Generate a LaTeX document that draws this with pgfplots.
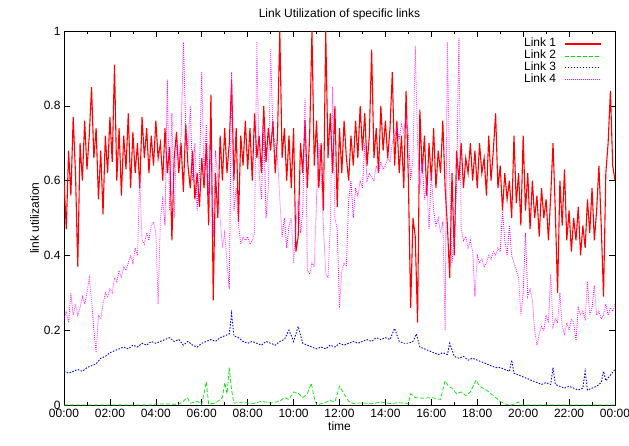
\documentclass[border=0pt]{standalone}
\usepackage{pgfplots}
\pgfplotsset{compat=1.18}
\usepackage{fontspec}
\setmainfont{Liberation Sans}
\definecolor{gred}{RGB}{255,0,0}
\definecolor{ggreen}{RGB}{0,230,0}
\definecolor{gblue}{RGB}{0,0,255}
\definecolor{gmag}{RGB}{255,0,255}
\newcommand{\legsolid}[2]{\node[inner sep=0pt, anchor=west] at (0pt,0pt) {\textcolor{#1}{\rule[-#2/2]{36pt}{#2}}};}
\newcommand{\legdash}[4]{\node[inner sep=0pt, anchor=west] at (0pt,0pt) {\textcolor{#1}{\leaders\hbox{\rule[-#2/2]{#3}{#2}\hspace{#4}}\hskip36pt}};}
\begin{document}
\begin{tikzpicture}
\begin{axis}[
  scale only axis, width=551pt, height=374pt,
  xmin=0, xmax=24, ymin=0, ymax=1,
  axis line style={line width=0.8pt},
  xtick={0,2,...,24},
  xticklabels={00:00,02:00,04:00,06:00,08:00,10:00,12:00,14:00,16:00,18:00,20:00,22:00,00:00},
  minor xtick={1,3,...,23},
  ytick={0,0.2,0.4,0.6,0.8,1},
  yticklabels={0,0.2,0.4,0.6,0.8,1},
  tick align=inside, tick pos=both,
  major tick length=6pt, minor tick length=3pt,
  tick style={line width=0.6pt, black},
  tick label style={font=\fontsize{12}{14}\selectfont},
  xticklabel style={yshift=-1pt},
  label style={font=\fontsize{12}{14}\selectfont},
  title style={font=\fontsize{12}{14}\selectfont, yshift=1pt},
  title={Link Utilization of specific links},
  xlabel={time}, ylabel={link utilization},
  xlabel style={yshift=3pt},
  ylabel style={yshift=-2pt},
  legend plot pos=right, legend cell align=right,
  legend style={at={(rel axis cs:0.9746,0.986)}, anchor=north east, draw=none, fill=none,
    font=\fontsize{12}{14}\selectfont, row sep=-3pt, inner sep=0pt, /tikz/column sep=7pt,
    nodes={inner sep=1.5pt, text height=9pt, text depth=3pt}},
]
\addplot[gred, line width=1.1pt,
  legend image code/.code={\node[inner sep=0pt, anchor=west, text height=, text depth=] at (0pt,0pt) {\textcolor{gred}{\rule[-0.6pt]{36pt}{1.2pt}}};}] coordinates {
(0.0,0.60)(0.1,0.47)(0.2,0.68)(0.3,0.56)(0.4,0.77)(0.5,0.62)(0.6,0.37)(0.7,0.70)(0.8,0.60)(0.9,0.76)
(1.0,0.63)(1.1,0.72)(1.2,0.85)(1.3,0.66)(1.4,0.74)(1.5,0.55)(1.6,0.68)(1.7,0.51)(1.8,0.72)(1.9,0.62)
(2.0,0.77)(2.1,0.65)(2.2,0.91)(2.3,0.60)(2.4,0.74)(2.5,0.56)(2.6,0.72)(2.7,0.63)(2.8,0.78)(2.9,0.58)
(3.0,0.73)(3.1,0.62)(3.2,0.70)(3.3,0.58)(3.4,0.77)(3.5,0.66)(3.6,0.74)(3.7,0.62)(3.8,0.72)(3.9,0.64)
(4.0,0.76)(4.1,0.66)(4.2,0.70)(4.3,0.60)(4.4,0.74)(4.5,0.62)(4.6,0.69)(4.7,0.44)(4.8,0.66)(4.9,0.73)
(5.0,0.62)(5.1,0.70)(5.2,0.57)(5.3,0.75)(5.4,0.64)(5.5,0.58)(5.6,0.68)(5.7,0.55)(5.8,0.62)(5.9,0.53)
(6.0,0.66)(6.1,0.58)(6.2,0.70)(6.3,0.48)(6.4,0.83)(6.5,0.28)(6.6,0.62)(6.7,0.50)(6.8,0.72)(6.9,0.60)
(7.0,0.74)(7.1,0.62)(7.2,0.70)(7.3,0.87)(7.4,0.60)(7.5,0.74)(7.6,0.49)(7.7,0.72)(7.8,0.64)(7.9,0.76)
(8.0,0.63)(8.1,0.74)(8.2,0.60)(8.3,0.78)(8.4,0.66)(8.5,0.72)(8.6,0.62)(8.7,0.80)(8.8,0.65)(8.9,0.74)
(9.0,0.68)(9.1,0.76)(9.2,0.62)(9.3,0.72)(9.4,1.00)(9.5,0.66)(9.6,0.74)(9.7,0.60)(9.8,0.72)(9.9,0.58)
(10.0,0.74)(10.1,0.41)(10.2,0.45)(10.3,0.70)(10.4,0.62)(10.5,0.76)(10.6,0.58)(10.7,0.72)(10.8,1.00)(10.9,0.64)
(11.0,0.76)(11.1,0.58)(11.2,0.70)(11.3,0.52)(11.4,1.00)(11.5,0.66)(11.6,0.78)(11.7,0.62)(11.8,0.80)(11.9,0.53)
(12.0,0.74)(12.1,0.62)(12.2,0.76)(12.3,0.66)(12.4,0.60)(12.5,0.72)(12.6,0.64)(12.7,0.76)(12.8,0.66)(12.9,0.80)
(13.0,0.68)(13.1,0.78)(13.2,0.64)(13.3,0.72)(13.4,0.95)(13.5,0.66)(13.6,0.74)(13.7,0.62)(13.8,0.80)(13.9,0.68)
(14.0,0.76)(14.1,0.66)(14.2,0.74)(14.3,0.89)(14.4,0.64)(14.5,0.76)(14.6,0.62)(14.7,0.72)(14.8,0.58)(14.9,0.84)
(15.0,0.60)(15.1,0.26)(15.2,0.50)(15.3,0.45)(15.4,0.22)(15.5,0.79)(15.6,0.62)(15.7,0.72)(15.8,0.56)(15.9,0.70)
(16.0,0.60)(16.1,0.74)(16.2,0.58)(16.3,0.68)(16.4,0.62)(16.5,0.76)(16.6,0.58)(16.7,0.48)(16.8,0.34)(16.9,0.62)
(17.0,0.40)(17.1,0.68)(17.2,0.60)(17.3,0.70)(17.4,0.58)(17.5,0.66)(17.6,0.62)(17.7,0.70)(17.8,0.60)(17.9,0.68)
(18.0,0.58)(18.1,0.70)(18.2,0.62)(18.3,0.66)(18.4,0.56)(18.5,0.72)(18.6,0.60)(18.7,0.68)(18.8,0.78)(18.9,0.58)
(19.0,0.64)(19.1,0.52)(19.2,0.62)(19.3,0.55)(19.4,0.60)(19.5,0.50)(19.6,0.72)(19.7,0.54)(19.8,0.62)(19.9,0.48)
(20.0,0.72)(20.1,0.52)(20.2,0.62)(20.3,0.47)(20.4,0.60)(20.5,0.50)(20.6,0.56)(20.7,0.45)(20.8,0.58)(20.9,0.50)
(21.0,0.55)(21.1,0.44)(21.2,0.56)(21.3,0.70)(21.4,0.52)(21.5,0.30)(21.6,0.60)(21.7,0.48)(21.8,0.63)(21.9,0.44)
(22.0,0.52)(22.1,0.41)(22.2,0.50)(22.3,0.44)(22.4,0.53)(22.5,0.40)(22.6,0.48)(22.7,0.42)(22.8,0.55)(22.9,0.46)
(23.0,0.58)(23.1,0.44)(23.2,0.52)(23.3,0.64)(23.4,0.48)(23.5,0.29)(23.6,0.62)(23.7,0.70)(23.8,0.84)(23.9,0.64)(24.0,0.60)
};
\addlegendentry{Link 1}
\addplot[ggreen, line width=0.7pt, dash pattern=on 4pt off 2pt,
  legend image code/.code={\node[inner sep=0pt, anchor=west, text height=, text depth=] at (0pt,0pt) {\textcolor{ggreen}{\leaders\hbox{\rule[-0.4pt]{4pt}{0.8pt}\hspace{2pt}}\hskip36pt}};}] coordinates {
(0,0)(3.8,0)(4.0,0.003)(5.0,0.002)(5.2,0.01)(5.37,0.02)(5.5,0.005)(5.8,0.01)(6.0,0.002)(6.2,0.062)(6.3,0.003)(6.6,0.005)(6.9,0.02)(7.0,0.06)(7.1,0.03)(7.2,0.1)(7.3,0.04)(7.4,0.005)(7.8,0.008)(8.2,0.003)(8.6,0.01)(9.0,0.005)(9.4,0.01)(9.6,0.02)(9.8,0.015)(10.0,0.035)(10.2,0.032)(10.4,0.02)(10.6,0.03)(10.77,0.058)(10.9,0.02)(11.0,0.0)(11.3,0.005)(11.6,0.012)(11.8,0.008)(12.0,0.05)(12.2,0.03)(12.4,0.01)(12.6,0.004)(13.0,0.006)(13.4,0.003)(13.8,0.008)(14.2,0.004)(14.6,0.006)(15.0,0.004)(15.1,0.03)(15.3,0.02)(15.6,0.018)(16.0,0.02)(16.4,0.015)(16.6,0.065)(16.75,0.05)(16.9,0.045)(17.1,0.03)(17.3,0.035)(17.5,0.025)(17.7,0.035)(17.95,0.067)(18.1,0.05)(18.4,0.04)(18.7,0.025)(19.0,0.01)(19.2,0.003)(19.5,0.0)(19.8,0.008)(19.9,0.0)(24,0)
};
\addlegendentry{Link 2}
\addplot[gblue, line width=0.9pt, dash pattern=on 1.5pt off 1.5pt,
  legend image code/.code={\node[inner sep=0pt, anchor=west, text height=, text depth=] at (0pt,0pt) {\textcolor{gblue}{\leaders\hbox{\rule[-0.5pt]{1.5pt}{1pt}\hspace{1.5pt}}\hskip36pt}};}] coordinates {
(0.0,0.09)(0.2,0.085)(0.4,0.09)(0.6,0.095)(0.8,0.09)(1.0,0.10)(1.2,0.105)(1.4,0.11)(1.6,0.125)(1.8,0.13)(2.0,0.14)(2.2,0.145)(2.4,0.15)(2.6,0.155)(2.8,0.15)(3.0,0.16)(3.2,0.155)(3.4,0.165)(3.6,0.16)(3.8,0.17)(4.0,0.165)(4.2,0.17)(4.4,0.175)(4.6,0.18)(4.8,0.17)(5.0,0.175)(5.2,0.16)(5.4,0.17)(5.6,0.16)(5.8,0.155)(6.0,0.165)(6.2,0.17)(6.4,0.175)(6.6,0.17)(6.8,0.18)(7.0,0.185)(7.2,0.19)(7.3,0.245)(7.4,0.185)(7.6,0.18)(7.8,0.17)(8.0,0.165)(8.2,0.17)(8.4,0.165)(8.6,0.16)(8.8,0.17)(9.0,0.165)(9.2,0.16)(9.4,0.17)(9.6,0.175)(9.8,0.2)(10.0,0.17)(10.2,0.21)(10.4,0.165)(10.6,0.16)(10.8,0.155)(11.0,0.15)(11.2,0.155)(11.4,0.15)(11.6,0.16)(11.8,0.155)(12.0,0.165)(12.2,0.16)(12.4,0.165)(12.6,0.17)(12.8,0.165)(13.0,0.17)(13.2,0.175)(13.4,0.17)(13.6,0.18)(13.8,0.175)(14.0,0.18)(14.2,0.175)(14.4,0.205)(14.6,0.17)(14.8,0.165)(15.0,0.165)(15.2,0.17)(15.35,0.19)(15.5,0.155)(15.7,0.15)(15.9,0.145)(16.1,0.14)(16.3,0.135)(16.5,0.14)(16.7,0.135)(16.8,0.165)(17.0,0.13)(17.2,0.125)(17.4,0.13)(17.6,0.12)(17.8,0.125)(18.0,0.12)(18.2,0.115)(18.4,0.11)(18.6,0.105)(18.8,0.1)(19.0,0.1)(19.2,0.095)(19.4,0.09)(19.5,0.12)(19.6,0.085)(19.8,0.08)(20.0,0.075)(20.2,0.07)(20.4,0.065)(20.6,0.06)(20.8,0.055)(21.0,0.06)(21.2,0.055)(21.3,0.1)(21.4,0.055)(21.6,0.05)(21.8,0.045)(22.0,0.05)(22.2,0.045)(22.4,0.04)(22.6,0.045)(22.7,0.09)(22.8,0.04)(23.0,0.045)(23.2,0.05)(23.4,0.06)(23.5,0.09)(23.6,0.065)(23.8,0.08)(24.0,0.095)
};
\addlegendentry{Link 3}
\addplot[gmag, line width=0.8pt, dash pattern=on 0.8pt off 1.2pt,
  legend image code/.code={\node[inner sep=0pt, anchor=west, text height=, text depth=] at (0pt,0pt) {\textcolor{gmag}{\leaders\hbox{\rule[-0.45pt]{0.9pt}{0.9pt}\hspace{1.1pt}}\hskip36pt}};}] coordinates {
(0.0,0.23)(0.1,0.25)(0.2,0.22)(0.3,0.30)(0.4,0.24)(0.5,0.27)(0.6,0.24)(0.7,0.26)(0.8,0.29)(0.9,0.27)
(1.0,0.30)(1.1,0.34)(1.2,0.28)(1.3,0.20)(1.4,0.14)(1.5,0.24)(1.6,0.23)(1.7,0.27)(1.8,0.30)(1.9,0.29)
(2.0,0.31)(2.1,0.30)(2.2,0.34)(2.3,0.33)(2.4,0.36)(2.5,0.34)(2.6,0.37)(2.7,0.36)(2.8,0.38)(2.9,0.40)
(3.0,0.38)(3.1,0.42)(3.2,0.40)(3.3,0.61)(3.4,0.44)(3.5,0.43)(3.6,0.46)(3.7,0.44)(3.8,0.48)(3.9,0.49)
(4.0,0.46)(4.1,0.27)(4.2,0.50)(4.3,0.55)(4.4,0.48)(4.5,0.87)(4.6,0.52)(4.7,0.78)(4.8,0.50)(4.9,0.70)
(5.0,0.65)(5.1,0.72)(5.2,0.97)(5.3,0.75)(5.4,0.68)(5.5,0.80)(5.6,0.60)(5.7,0.70)(5.8,0.52)(5.9,0.62)
(6.0,0.89)(6.1,0.60)(6.2,0.75)(6.3,0.55)(6.4,0.70)(6.5,0.45)(6.6,0.68)(6.7,0.60)(6.8,0.50)(6.9,0.42)
(7.0,0.46)(7.1,0.38)(7.2,0.31)(7.3,0.89)(7.4,0.52)(7.5,0.58)(7.6,0.48)(7.7,0.43)(7.8,0.45)(7.9,0.44)
(8.0,0.45)(8.1,0.43)(8.2,0.44)(8.3,0.46)(8.4,0.97)(8.5,0.62)(8.6,0.55)(8.7,0.75)(8.8,0.50)(8.9,0.58)
(9.0,0.95)(9.1,0.72)(9.2,0.70)(9.3,0.66)(9.4,0.55)(9.5,0.45)(9.6,0.50)(9.7,0.42)(9.8,0.48)(9.9,0.50)
(10.0,0.38)(10.1,0.48)(10.2,0.55)(10.3,0.46)(10.4,0.52)(10.5,0.82)(10.6,0.36)(10.7,0.35)(10.8,0.38)(10.9,0.37)
(11.0,0.55)(11.1,0.70)(11.2,0.62)(11.3,0.48)(11.4,0.35)(11.5,0.34)(11.6,0.48)(11.7,0.85)(11.8,0.50)(11.9,0.47)
(12.0,0.26)(12.1,0.36)(12.2,0.38)(12.3,0.37)(12.4,0.55)(12.5,0.60)(12.6,0.50)(12.7,0.58)(12.8,0.56)(12.9,0.60)
(13.0,0.58)(13.1,0.70)(13.2,0.60)(13.3,0.62)(13.4,0.61)(13.5,0.60)(13.6,0.64)(13.7,0.62)(13.8,0.65)(13.9,0.63)
(14.0,0.64)(14.1,0.66)(14.2,0.65)(14.3,0.70)(14.4,0.72)(14.5,0.74)(14.6,0.71)(14.7,0.75)(14.8,0.73)(14.9,0.77)
(15.0,0.72)(15.1,0.60)(15.2,0.66)(15.3,0.96)(15.4,0.70)(15.5,0.58)(15.6,0.65)(15.7,0.55)(15.8,0.60)(15.9,0.47)
(16.0,0.62)(16.1,0.52)(16.2,0.48)(16.3,0.50)(16.4,0.46)(16.5,0.49)(16.6,0.20)(16.7,0.97)(16.8,0.60)(16.9,0.38)
(17.0,0.45)(17.1,0.58)(17.2,0.98)(17.3,0.47)(17.4,0.44)(17.5,0.45)(17.6,0.42)(17.7,0.44)(17.8,0.41)(17.9,0.29)
(18.0,0.40)(18.1,0.38)(18.2,0.39)(18.3,0.37)(18.4,0.38)(18.5,0.40)(18.6,0.39)(18.7,0.41)(18.8,0.40)(18.9,0.42)
(19.0,0.41)(19.1,0.52)(19.2,0.44)(19.3,0.40)(19.4,0.48)(19.5,0.40)(19.6,0.38)(19.7,0.36)(19.8,0.34)(19.9,0.24)
(20.0,0.30)(20.1,0.46)(20.2,0.29)(20.3,0.31)(20.4,0.28)(20.5,0.20)(20.6,0.16)(20.7,0.19)(20.8,0.21)(20.9,0.20)
(21.0,0.24)(21.1,0.22)(21.2,0.35)(21.3,0.21)(21.4,0.23)(21.5,0.22)(21.6,0.30)(21.7,0.21)(21.8,0.19)(21.9,0.22)
(22.0,0.20)(22.1,0.23)(22.2,0.22)(22.3,0.17)(22.4,0.26)(22.5,0.24)(22.6,0.25)(22.7,0.23)(22.8,0.33)(22.9,0.24)
(23.0,0.26)(23.1,0.32)(23.2,0.24)(23.3,0.25)(23.4,0.23)(23.5,0.24)(23.6,0.27)(23.7,0.24)(23.8,0.26)(23.9,0.25)(24.0,0.27)
};
\addlegendentry{Link 4}
\end{axis}
\pgfresetboundingbox
\path[use as bounding box] (-64pt,-40pt) rectangle (565pt,405pt);
\end{tikzpicture}
\end{document}
